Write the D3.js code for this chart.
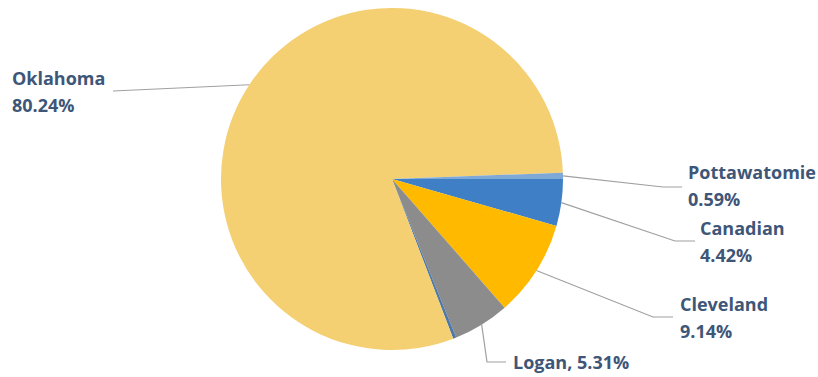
<!DOCTYPE html>
<html>
<head>
<meta charset="utf-8">
<script src="https://cdn.jsdelivr.net/npm/d3@7"></script>
<style>
  html, body { margin: 0; padding: 0; background: #ffffff; }
  svg { display: block; }
</style>
</head>
<body>
<svg id="chart" width="818" height="377"></svg>
<script>
// ---- data (clockwise from 3 o'clock) ----
const categories = ["Canadian", "Cleveland", "Logan", "McClain", "Oklahoma", "Pottawatomie"];
const values = [4.42, 9.14, 5.31, 0.30, 80.24, 0.59];
const labelLines = [
  ["Canadian", "4.42%"],
  ["Cleveland", "9.14%"],
  ["Logan, 5.31%"],
  [],
  ["Oklahoma", "80.24%"],
  ["Pottawatomie", "0.59%"]
];
const colors = ["#3f7fc6", "#ffba00", "#8c8c8c", "#4f79a9", "#f4d073", "#7ea9d6"];

// ---- layout ----
const W = 818, H = 377;
const cx = 392, cy = 179, R = 171;
// label placement: text x, first-line middle y, leader elbow x/y, leader end x
const labelLayout = [
  { tx: 700, ty: 228, ex: 675, ey: 241, lx: 695 },
  { tx: 680, ty: 304, ex: 653, ey: 317, lx: 673 },
  { tx: 513, ty: 362, ex: 487, ey: 362, lx: 506 },
  null,
  { tx: 12,  ty: 78,  ex: 113, ey: 91,  lx: 113 },
  { tx: 688, ty: 172, ex: 663, ey: 187, lx: 682 }
];

const svg = d3.select("#chart");
const g = svg.append("g").attr("transform", `translate(${cx},${cy})`);

const data = categories.map((c, i) => ({ name: c, value: values[i], i }));
const pie = d3.pie().value(d => d.value).sort(null)
  .startAngle(Math.PI / 2).endAngle(Math.PI / 2 + 2 * Math.PI);
const arcs = pie(data);
const arc = d3.arc().innerRadius(0).outerRadius(R);

g.selectAll("path.slice").data(arcs).enter().append("path")
  .attr("class", "slice")
  .attr("d", arc)
  .attr("fill", d => colors[d.data.i])
  .attr("stroke", "none");

// leader lines
const lineG = svg.append("g");
arcs.forEach(a => {
  const L = labelLayout[a.data.i];
  if (!L) return;
  const mid = (a.startAngle + a.endAngle) / 2;
  const px = cx + Math.sin(mid) * R;
  const py = cy - Math.cos(mid) * R;
  lineG.append("polyline")
    .attr("points", `${px},${py} ${L.ex},${L.ey} ${L.lx},${L.ey}`)
    .attr("fill", "none")
    .attr("stroke", "#a0a0a0")
    .attr("stroke-width", 1.2);
});

// labels
const textG = svg.append("g")
  .attr("font-family", "'Open Sans', Lato, sans-serif")
  .attr("font-weight", "bold")
  .attr("font-size", 18)
  .attr("fill", "#3e5677");
arcs.forEach(a => {
  const L = labelLayout[a.data.i];
  if (!L) return;
  const lines = labelLines[a.data.i];
  lines.forEach((t, k) => {
    textG.append("text")
      .attr("x", L.tx)
      .attr("y", L.ty + k * 27)
      .attr("dominant-baseline", "central")
      .text(t);
  });
});
</script>
</body>
</html>
